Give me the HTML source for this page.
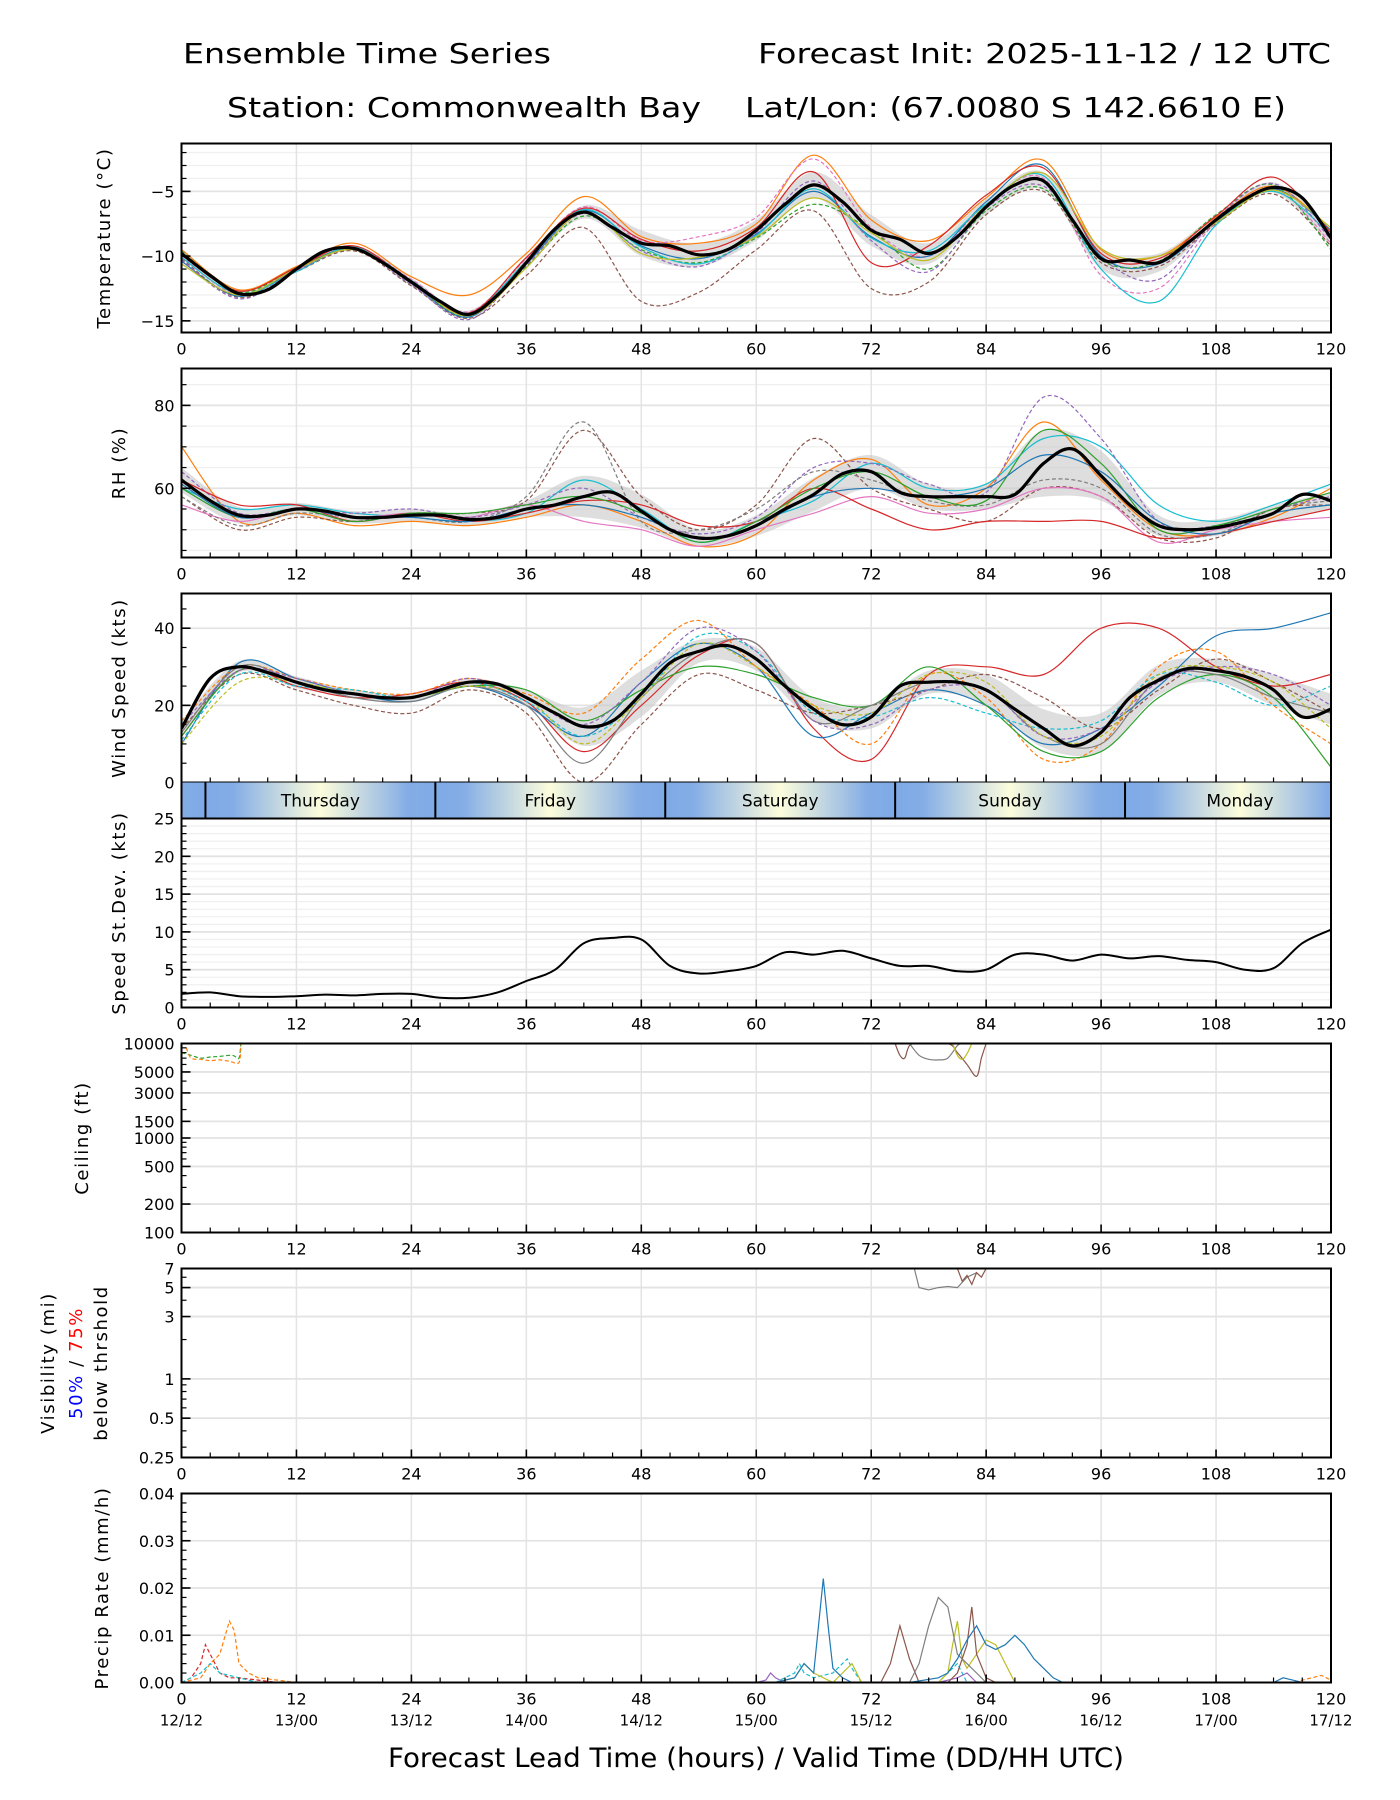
<!DOCTYPE html>
<html><head><meta charset="utf-8"><style>
html,body{margin:0;padding:0;background:#fff;}
svg{display:block;font-family:"DejaVu Sans","Liberation Sans",sans-serif;}
</style></head><body>
<svg id="chart" width="1400" height="1800" xmlns="http://www.w3.org/2000/svg">
<defs>
<linearGradient id="dayGrad" x1="0" x2="1" y1="0" y2="0">
<stop offset="0" stop-color="#7eaae6"/><stop offset="0.12" stop-color="#84ade6"/>
<stop offset="0.5" stop-color="#fdfddc"/><stop offset="0.88" stop-color="#84ade6"/><stop offset="1" stop-color="#7eaae6"/>
</linearGradient>
</defs>
<text x="183" y="63" font-size="28" textLength="368" lengthAdjust="spacingAndGlyphs">Ensemble Time Series</text>
<text x="1331" y="63" font-size="28" text-anchor="end" textLength="573" lengthAdjust="spacingAndGlyphs">Forecast Init: 2025-11-12 / 12 UTC</text>
<text x="227" y="117" font-size="28" textLength="474" lengthAdjust="spacingAndGlyphs">Station: Commonwealth Bay</text>
<text x="745" y="117" font-size="28" textLength="541" lengthAdjust="spacingAndGlyphs">Lat/Lon: (67.0080 S 142.6610 E)</text>
<g id="plots"></g>
<text x="756" y="1767" font-size="27" text-anchor="middle" textLength="736" lengthAdjust="spacingAndGlyphs">Forecast Lead Time (hours) / Valid Time (DD/HH UTC)</text>
</svg>
<script>
// ---------- data ----------
const hours3 = [0,3,6,9,12,15,18,21,24,27,30,33,36,39,42,45,48,51,54,57,60,63,66,69,72,75,78,81,84,87,90,93,96,99,102,105,108,111,114,117,120];
const hours6 = [0,6,12,18,24,30,36,42,48,54,60,66,72,78,84,90,96,102,108,114,120];
const xTickLabels = ["0","12","24","36","48","60","72","84","96","108","120"];
const dateLabels = ["12/12","13/00","13/12","14/00","14/12","15/00","15/12","16/00","16/12","17/00","17/12"];
const dayNames = ["Thursday","Friday","Saturday","Sunday","Monday"];
const dayStartHours = [2.5,26.5,50.5,74.5,98.5];

const tempMean = [-9.8,-11.5,-12.9,-12.6,-11.0,-9.6,-9.4,-10.5,-12.0,-13.5,-14.5,-13.0,-10.5,-7.9,-6.6,-7.8,-9.0,-9.2,-9.9,-9.5,-8.0,-6.0,-4.5,-5.8,-8.0,-8.7,-9.8,-8.5,-6.2,-4.5,-4.2,-7.2,-10.2,-10.3,-10.5,-9.0,-7.2,-5.6,-4.7,-5.5,-8.6];
const tempSpread = [0.4,0.3,0.2,0.2,0.3,0.3,0.4,0.5,1.0,0.9,0.8,1.0,1.2,0.8,0.6,0.7,0.8,0.7,0.4,0.4,0.6];
const tempM1 = [-9.5,-12.6,-10.8,-9.0,-11.6,-13.0,-9.8,-5.4,-8.5,-9.0,-7.5,-2.2,-7.2,-8.8,-5.5,-2.6,-9.5,-10.0,-7.0,-4.6,-8.0];
const tempM2 = [-10.2,-13.2,-11.2,-9.6,-12.3,-14.8,-11.5,-7.8,-13.5,-12.8,-9.5,-6.5,-12.5,-12.0,-6.8,-5.0,-10.5,-10.8,-7.5,-5.2,-9.2];
const tempM3 = [-10,-13,-11.1,-9.3,-11.8,-14.3,-10.2,-6.2,-8.8,-8.5,-7.0,-2.5,-7.8,-10.0,-6.0,-4.0,-11.5,-12.5,-7.4,-4.8,-9.0];
const tempM4 = [-10.4,-13.1,-11,-9.4,-12.1,-14.7,-10.6,-6.5,-9.2,-10.2,-8.3,-5.0,-8.5,-10.0,-5.8,-3.0,-10.0,-10.6,-7.3,-4.8,-8.0];
const tempM5 = [-9.6,-12.8,-10.9,-9.5,-12.1,-14.6,-10.8,-6.9,-9.5,-10.5,-8.6,-6.0,-8.0,-11.0,-6.5,-4.8,-10.3,-10.4,-6.8,-4.5,-9.5];
const tempM6 = [-10.1,-12.9,-11.2,-9.3,-11.9,-14.4,-10.4,-6.4,-9.3,-10.6,-8.4,-4.8,-8.6,-9.6,-6.0,-3.8,-11.0,-13.5,-7.6,-5.0,-8.4];
const tempM7 = [-10.3,-13.3,-11.1,-9.5,-12.2,-14.9,-10.7,-6.7,-9.6,-10.8,-8.2,-4.2,-8.8,-11.2,-6.3,-4.6,-10.1,-11.8,-7.1,-4.4,-8.7];
const tempM8 = [-9.9,-12.7,-10.9,-9.2,-12.0,-14.4,-10.1,-6.3,-8.7,-9.6,-7.8,-3.5,-10.5,-9.2,-5.3,-3.2,-9.8,-10.2,-6.9,-3.9,-8.2];
const tempM9 = [-10.6,-13.0,-11.0,-9.5,-12.0,-14.6,-10.9,-6.6,-9.8,-10.1,-8.5,-5.5,-8.2,-10.3,-6.1,-3.6,-9.4,-10.0,-7.4,-4.9,-7.8];

const rhMean = [62,57,53.5,53.5,55,54.5,53,53,53.5,53.5,52.5,53,55,56,58,59,54.5,50,48,48.5,51,55,58.5,63.5,64,59,58,58,58,58.5,66,69.5,63,56,51,50,50.5,52,54,58.5,57];
const rhSpread = [3,2,1.5,1.5,1.5,1.5,2,5,4,2,2.5,4,4,3,3,8,6,2.5,2,2,2];
const rhM1 = [70,52,54,51,52,51,53,56,52,46,49,62,67,56,60,76,62,50,49,53,60];
const rhM2 = [58,50,53,52,54,54,57,74,58,50,56,72,60,55,52,60,58,48,48,55,56];
const rhM3 = [60,55,56,54,53,52,54,62,55,47,52,57,66,60,61,72,70,56,52,56,61];
const rhM4 = [56,52,55,53,54,53,56,52,50,46,50,54,58,54,55,60,58,47,50,52,53];
const rhM5 = [64,54,55,54,55,53,56,60,53,49,53,65,66,61,59,82,72,52,51,55,58];
const rhM6 = [62,56,56,52,54,52,54,57,56,51,52,60,55,50,52,52,52,48,49,52,55];
const rhM7 = [58,51,54,53,53,52,58,76,52,50,55,64,62,57,56,62,60,49,49,55,57];
const rhM8 = [60,53,55,52,54,54,56,58,54,47,52,60,64,58,57,74,66,50,51,55,59];
const rhM9 = [61,53,55,53,53,52,55,56,53,48,51,58,60,58,60,68,64,52,49,54,56];

const windMean = [14,27,30,28.5,26,24,23,22,22,24,26,25.5,22,18,14.5,16,23,31,34,35.5,32,25,19,15,17,25,26,26,24,19,14,9.5,13,22,26.5,29.5,29,27.5,24,17,19];
const windSpread = [2,1.5,1.5,1,1,1,2,5,6,3,3,3,3,3,4,5,5,4,3,4,4];
const windM1 = [12,29,25,22,23,26,21,8,20,33,36,14,6,28,30,28,40,40,30,25,28];
const windM2 = [10,31,27,23,21,25,20,12,26,36,30,12,18,24,20,10,14,25,38,40,44];
const windM3 = [14,28,24,20,18,24,18,0,15,28,24,18,20,24,28,22,14,24,32,26,18];
const windM4 = [16,30,27,24,23,27,23,18,32,42,30,20,10,28,22,6,10,30,34,20,10];
const windM5 = [12,29,26,23,22,25,24,16,24,30,28,22,20,30,20,8,8,22,28,22,4];
const windM6 = [11,28,25,24,22,26,21,12,22,38,34,18,17,22,18,14,16,28,26,20,25];
const windM7 = [13,30,26,22,21,25,20,5,22,34,36,16,20,26,24,12,10,27,28,22,18];
const windM8 = [15,29,27,23,22,27,22,15,26,40,34,16,15,24,24,12,14,26,30,28,20];
const windM9 = [10,26,26,23,22,25,22,10,22,36,30,20,18,28,26,12,12,28,30,26,14];

const stdevValues = [1.8,2,1.5,1.4,1.5,1.7,1.6,1.8,1.8,1.3,1.3,2,3.5,5,8.5,9.2,9,5.5,4.5,4.8,5.5,7.3,7,7.5,6.5,5.5,5.5,4.8,5,7,7,6.2,7,6.5,6.8,6.3,6,5,5.2,8.5,10.3];

const ceilGreenH = [0,1,2,3,4,5,5.5,6,6.2];
const ceilGreenV = [8000,7500,7000,7200,7300,7500,7400,7000,10000];
const ceilOrangeH = [0.5,1,2,3,4,5,6,6.2];
const ceilOrangeV = [9000,7000,6800,6600,6700,6500,6300,10000];
const ceilBrownH = [74.5,75,75.5,76,77,80,81,82,83,83.5,84];
const ceilBrownV = [10000,7500,7000,9500,10000,10000,8000,6000,4500,7000,10000];
const ceilGrayH = [76,77,78,79,80,81,81.5];
const ceilGrayV = [10000,7500,6800,6700,7000,9500,10000];
const ceilOliveH = [80.5,81,81.5,82,82.5];
const ceilOliveV = [10000,7500,6800,7800,10000];

const visGrayH = [76.5,77,78,79,80,81,82,83];
const visGrayV = [7,5,4.8,5.0,5.1,5.0,6.0,6.5];
const visBrownH = [81,81.5,82,82.5,83,83.5,84];
const visBrownV = [7,5.6,6.2,5.3,6.5,6.0,7];

const prBlueH = [60,62,64,65,66,66.5,67,67.5,68,69,70,72,76,79,80,81,82,83,84,85,86,87,88,89,90,91,92,95,114,115,116,117];
const prBlueV = [0,0,0.001,0.004,0.002,0.012,0.022,0.012,0.003,0.001,0,0,0,0.001,0.002,0.005,0.009,0.012,0.008,0.007,0.008,0.010,0.008,0.005,0.003,0.001,0,0,0,0.001,0.0005,0];
const prGrayH = [76,77,78,79,80,81,82,83,84];
const prGrayV = [0,0.004,0.012,0.018,0.016,0.006,0.004,0.002,0];
const prBrownH = [73,74,75,76,77,80,81,82,82.5,83,84,85];
const prBrownV = [0,0.004,0.012,0.005,0,0,0.002,0.008,0.016,0.006,0.001,0];
const prOliveH = [62,64,65,66,68,69,70,71,79,80,80.5,81,81.5,82,83,84,85,86,87];
const prOliveV = [0,0.001,0.004,0.002,0,0.002,0.004,0,0,0.002,0.008,0.013,0.005,0.003,0.006,0.009,0.008,0.004,0];
const prOrangeH = [0,2,3,4,5,5.5,6,7,8,10,12,116,118,119,120];
const prOrangeV = [0,0.001,0.004,0.006,0.013,0.011,0.004,0.002,0.001,0.0005,0,0,0.001,0.0015,0.0005];
const prRedH = [0,1,2,2.5,3,3.5,4,5,6,8,10];
const prRedV = [0,0.001,0.004,0.008,0.006,0.004,0.002,0.001,0.001,0.0005,0];
const prCyanH = [0,2,3,4,6,8,62,64,64.5,65,66,68,69,69.5,70,71,79,80,81,82];
const prCyanV = [0,0.002,0.004,0.002,0.001,0,0,0.002,0.004,0.002,0.001,0.002,0.004,0.005,0.003,0,0,0.002,0.004,0];
const prPurpleH = [60,61,61.5,62,63,79,81,82,83];
const prPurpleV = [0,0.0005,0.002,0.001,0,0,0.001,0.002,0];

// ---------- layout ----------
const NS = "http://www.w3.org/2000/svg";
const X0 = 181.5, X1 = 1331, PH = 189;
const TOPS = [143.5,368.5,593.5,818.5,1043.5,1268.5,1493.5];
const plots = document.getElementById('plots');
const xs = h => X0 + h/120*(X1-X0);
const C = {blue:"#1f77b4",orange:"#ff7f0e",green:"#2ca02c",red:"#d62728",purple:"#9467bd",brown:"#8c564b",pink:"#e377c2",gray:"#7f7f7f",olive:"#bcbd22",cyan:"#17becf"};

function mk(tag, attrs, parent){
  const e = document.createElementNS(NS, tag);
  for (const k in attrs) e.setAttribute(k, attrs[k]);
  (parent||plots).appendChild(e);
  return e;
}
function smoothPath(pts){
  let d = "M"+pts[0][0].toFixed(1)+","+pts[0][1].toFixed(1);
  for (let i=0;i<pts.length-1;i++){
    const p0=pts[Math.max(0,i-1)], p1=pts[i], p2=pts[i+1], p3=pts[Math.min(pts.length-1,i+2)];
    const c1x=p1[0]+(p2[0]-p0[0])/6, c1y=p1[1]+(p2[1]-p0[1])/6;
    const c2x=p2[0]-(p3[0]-p1[0])/6, c2y=p2[1]-(p3[1]-p1[1])/6;
    d += "C"+c1x.toFixed(1)+","+c1y.toFixed(1)+" "+c2x.toFixed(1)+","+c2y.toFixed(1)+" "+p2[0].toFixed(1)+","+p2[1].toFixed(1);
  }
  return d;
}
function linePath(pts){ return pts.map((p,i)=>(i?"L":"M")+p[0].toFixed(1)+","+p[1].toFixed(1)).join(""); }
function fmt(v){ return String(v).replace("-","\u2212"); }

function panel(idx, opt){
  const top = TOPS[idx], bot = top+PH;
  const g = mk('g', {});
  
  
  const cp = mk('clipPath', {id:'clip'+idx}, g);
  mk('rect', {x:X0, y:top, width:X1-X0, height:PH}, cp);
  const y = opt.scale(top, bot);
  (opt.minorGrid||[]).forEach(v=>{ const yy=y(v); if(yy>top&&yy<bot){ const l=mk('line',{x1:X0,x2:X1,y1:yy,y2:yy,stroke:'#f0f0f0','stroke-width':1.3},g);   }});
  for (let h=12; h<120; h+=12){ const l=mk('line',{x1:xs(h),x2:xs(h),y1:top,y2:bot,stroke:'#e3e3e3','stroke-width':1.5},g);   }
  opt.ticks.forEach(v=>{ const yy=y(v); if(yy>top+1&&yy<bot-1){ const l=mk('line',{x1:X0,x2:X1,y1:yy,y2:yy,stroke:'#e3e3e3','stroke-width':1.8},g);   }});
  const dg = mk('g', {'clip-path':'url(#clip'+idx+')'}, g);
  
  
  if (opt.draw) opt.draw(dg, y);
  const fr = mk('rect', {x:X0, y:top, width:X1-X0, height:PH, fill:'none', stroke:'#000', 'stroke-width':2}, g);
  
  
  for (let h=0; h<=120; h+=3){
    const major = h%12===0, L = major?8:5;
    mk('line',{x1:xs(h),x2:xs(h),y1:bot,y2:bot-L,stroke:'#000','stroke-width':major?1.6:1.2},g);
  }
  if (!opt.noXLabels) xTickLabels.forEach((lab,i)=>{
    const t = mk('text',{x:xs(i*12), y:bot+22, 'font-size':16, 'text-anchor':'middle'},g);
    t.textContent = lab;
    
    
  });
  (opt.minorTicks||[]).forEach(v=>{ const yy=y(v); if(yy>=top-0.5&&yy<=bot+0.5) mk('line',{x1:X0,x2:X0+5,y1:yy,y2:yy,stroke:'#000','stroke-width':1.2},g); });
  opt.ticks.forEach((v,i)=>{
    const yy=y(v);
    mk('line',{x1:X0,x2:X0+9,y1:yy,y2:yy,stroke:'#000','stroke-width':1.6},g);
    const t = mk('text',{x:X0-7, y:yy+6, 'font-size':16, 'text-anchor':'end'},g);
    t.textContent = opt.tickLabels ? opt.tickLabels[i] : fmt(v);
    
    
  });
  return {top, bot, y};
}
function ylabel(x, cy, text, name){
  const t = mk('text',{x:x, y:cy, 'font-size':18, 'letter-spacing':1.6, 'text-anchor':'middle', transform:'rotate(-90 '+x+' '+cy+')'});
  t.textContent = text;
  
  
  return t;
}
function linScale(lo, hi){ return (top,bot)=> v => bot - (v-lo)/(hi-lo)*(bot-top); }
function logScale(lo, hi){ return (top,bot)=> v => bot - (Math.log10(v)-Math.log10(lo))/(Math.log10(hi)-Math.log10(lo))*(bot-top); }
function range(a,b,s){ const r=[]; for(let v=a; v<=b+1e-9; v+=s) r.push(+v.toFixed(4)); return r; }

function ensemble(dg, y, mean, spread, members){
  const meanAt6 = hours6.map(h=> mean[hours3.indexOf(h)]);
  const upper = hours6.map((h,i)=>[xs(h), y(meanAt6[i]+spread[i])]);
  const lower = hours6.map((h,i)=>[xs(h), y(meanAt6[i]-spread[i])]).reverse();
  const band = mk('path',{d: smoothPath(upper)+smoothPath(lower).replace('M','L')+'Z', fill:'#c8c8c8', 'fill-opacity':0.6, stroke:'none'}, dg);
  
  
  members.forEach(m=>{
    const p = mk('path',{d: smoothPath(hours6.map((h,i)=>[xs(h), y(m.v[i])])), fill:'none', stroke:m.c, 'stroke-width':1.2, 'stroke-dasharray': m.dash?'4,2.5':'none'}, dg);
    
    
  });
  const ml = mk('path',{d: smoothPath(hours3.map((h,i)=>[xs(h), y(mean[i])])), fill:'none', stroke:'#000', 'stroke-width':3.2}, dg);
  
  
}
function rawLines(dg, y, list, smooth){
  list.forEach(m=>{
    const pts = m.h.map((h,i)=>[xs(h), y(m.v[i])]);
    const p = mk('path',{d: smooth?smoothPath(pts):linePath(pts), fill:'none', stroke:m.c, 'stroke-width':1.2, 'stroke-dasharray': m.dash?'4,2.5':'none'}, dg);
    
    
  });
}

// Temperature
panel(0, {name:'temperature', scale:linScale(-15.9,-1.3), ticks:[-15,-10,-5], minorTicks:range(-15,-2,1), minorGrid:range(-15,-2,1),
  draw:(dg,y)=>ensemble(dg,y,tempMean,tempSpread,[
    {v:tempM1,c:C.orange,dash:false},{v:tempM2,c:C.brown,dash:true},{v:tempM3,c:C.pink,dash:true},
    {v:tempM4,c:C.blue,dash:false},{v:tempM5,c:C.green,dash:true},{v:tempM6,c:C.cyan,dash:false},
    {v:tempM7,c:C.purple,dash:true},{v:tempM8,c:C.red,dash:false},{v:tempM9,c:C.olive,dash:false}])});
ylabel(110, 238, 'Temperature (°C)', 'temperature-axis-title');

// RH
panel(1, {name:'rh', scale:linScale(43.3,88.9), ticks:[60,80], minorTicks:range(45,85,5), minorGrid:range(45,85,5),
  draw:(dg,y)=>ensemble(dg,y,rhMean,rhSpread,[
    {v:rhM1,c:C.orange,dash:false},{v:rhM2,c:C.brown,dash:true},{v:rhM3,c:C.cyan,dash:false},
    {v:rhM4,c:C.pink,dash:false},{v:rhM5,c:C.purple,dash:true},{v:rhM6,c:C.red,dash:false},
    {v:rhM7,c:C.gray,dash:true},{v:rhM8,c:C.green,dash:false},{v:rhM9,c:C.blue,dash:false}])});
ylabel(125, 463, 'RH (%)', 'rh-axis-title');

// Wind
panel(2, {name:'wind-speed', scale:linScale(0,49), ticks:[0,20,40], minorTicks:range(0,45,5), minorGrid:[], noXLabels:true,
  draw:(dg,y)=>ensemble(dg,y,windMean,windSpread,[
    {v:windM1,c:C.red,dash:false},{v:windM2,c:C.blue,dash:false},{v:windM3,c:C.brown,dash:true},
    {v:windM4,c:C.orange,dash:true},{v:windM5,c:C.green,dash:false},{v:windM6,c:C.cyan,dash:true},
    {v:windM7,c:C.gray,dash:false},{v:windM8,c:C.purple,dash:true},{v:windM9,c:C.olive,dash:true}])});
ylabel(125, 688, 'Wind Speed (kts)', 'wind-speed-axis-title');

// Day bar
(function(){
  const top = 782.5, bot = 818.5;
  const g = mk('g',{});
  
  
  const cp = mk('clipPath',{id:'dayclip'},g);
  mk('rect',{x:X0,y:top,width:X1-X0,height:bot-top},cp);
  const sg = mk('g',{'clip-path':'url(#dayclip)'},g);
  const bounds = [0].concat(dayStartHours).concat([120]);
  for (let i=0;i<bounds.length-1;i++){
    const a = i===0 ? -21.5 : bounds[i];
    const b = i===bounds.length-2 ? bounds[i]+24 : bounds[i+1];
    const r = mk('rect',{x:xs(a), y:top, width:xs(b)-xs(a), height:bot-top, fill:'url(#dayGrad)'},sg);
    
    
  }
  dayStartHours.forEach((h,i)=>{
    mk('line',{x1:xs(h),x2:xs(h),y1:top,y2:bot,stroke:'#000','stroke-width':2},g);
    const t = mk('text',{x:xs(h+12), y:top+24, 'font-size':17, 'text-anchor':'middle'},g);
    t.textContent = dayNames[i];
    
    
  });
  mk('line',{x1:X0,x2:X0,y1:top,y2:bot,stroke:'#000','stroke-width':2},g);
  mk('line',{x1:X1,x2:X1,y1:top,y2:bot,stroke:'#000','stroke-width':2},g);
})();

// StDev
panel(3, {name:'speed-stdev', scale:linScale(0,25), ticks:[0,5,10,15,20,25], minorTicks:range(0,25,1), minorGrid:range(1,24,1),
  draw:(dg,y)=>{
    const p = mk('path',{d: smoothPath(hours3.map((h,i)=>[xs(h), y(stdevValues[i])])), fill:'none', stroke:'#000','stroke-width':2}, dg);
    
    
  }});
ylabel(125, 913, 'Speed St.Dev. (kts)', 'stdev-axis-title');

// Ceiling
panel(4, {name:'ceiling', scale:logScale(100,10000), ticks:[100,200,500,1000,1500,3000,5000,10000],
  minorTicks:[300,400,600,700,800,900,2000,4000,6000,7000,8000,9000], minorGrid:[],
  draw:(dg,y)=>rawLines(dg,y,[
    {h:ceilGreenH,v:ceilGreenV,c:C.green,dash:true},{h:ceilOrangeH,v:ceilOrangeV,c:C.orange,dash:true},
    {h:ceilBrownH,v:ceilBrownV,c:C.brown,dash:false},{h:ceilGrayH,v:ceilGrayV,c:C.gray,dash:false},
    {h:ceilOliveH,v:ceilOliveV,c:C.olive,dash:false}], true)});
ylabel(88, 1138, 'Ceiling (ft)', 'ceiling-axis-title');

// Visibility
panel(5, {name:'visibility', scale:logScale(0.25,7), ticks:[0.25,0.5,1,3,5,7], minorTicks:[0.3,0.4,0.6,0.7,0.8,0.9,2,4,6], minorGrid:[],
  draw:(dg,y)=>rawLines(dg,y,[{h:visGrayH,v:visGrayV,c:C.gray,dash:false},{h:visBrownH,v:visBrownV,c:C.brown,dash:false}], false)});
(function(){
  const cy = 1363;
  ylabel(54, cy, 'Visibility (mi)', 'visibility-axis-title');
  const t = mk('text',{x:82, y:cy, 'font-size':18, 'letter-spacing':1.6, 'text-anchor':'middle', transform:'rotate(-90 82 '+cy+')'});
  
  
  const a = mk('tspan',{fill:'#0000ff'},t); a.textContent='50%';
  const b = mk('tspan',{fill:'#000'},t); b.textContent=' / ';
  const c = mk('tspan',{fill:'#ff0000'},t); c.textContent='75%';
  ylabel(107, cy, 'below thrshold', 'visibility-threshold-subtitle');
})();

// Precip
const pp = panel(6, {name:'precip-rate', scale:linScale(0,0.04), ticks:[0,0.01,0.02,0.03,0.04], tickLabels:["0.00","0.01","0.02","0.03","0.04"],
  minorTicks:range(0,0.04,0.002), minorGrid:[],
  draw:(dg,y)=>rawLines(dg,y,[
    {h:prOrangeH,v:prOrangeV,c:C.orange,dash:true},{h:prRedH,v:prRedV,c:C.red,dash:true},
    {h:prCyanH,v:prCyanV,c:C.cyan,dash:true},{h:prPurpleH,v:prPurpleV,c:C.purple,dash:false},
    {h:prOliveH,v:prOliveV,c:C.olive,dash:false},{h:prBrownH,v:prBrownV,c:C.brown,dash:false},
    {h:prGrayH,v:prGrayV,c:C.gray,dash:false},{h:prBlueH,v:prBlueV,c:C.blue,dash:false}], false)});
ylabel(108, 1588, 'Precip Rate (mm/h)', 'precip-axis-title');
dateLabels.forEach((lab,i)=>{
  const t = mk('text',{x:xs(i*12), y:pp.bot+43, 'font-size':15, 'text-anchor':'middle'});
  t.textContent = lab;
  
  
});
</script>
</body></html>
